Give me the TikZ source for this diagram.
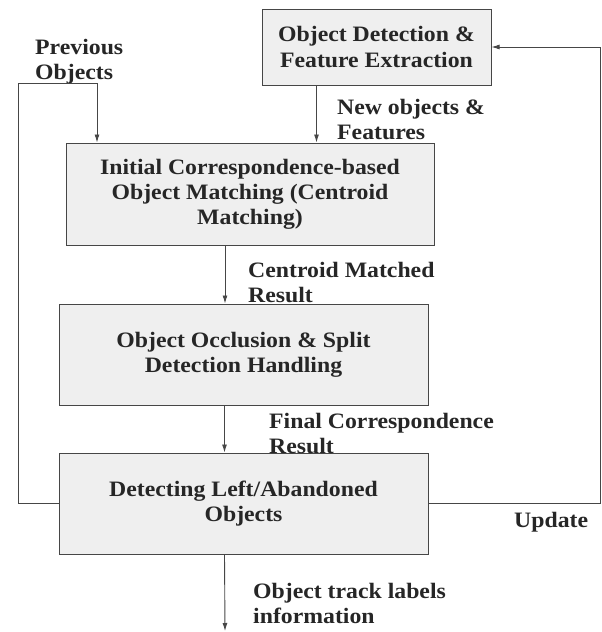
\documentclass[tikz,border=0pt]{standalone}
\usepackage{fontspec}
\setmainfont{Liberation Serif}[FakeStretch=1.08]
\definecolor{boxgray}{RGB}{239,239,239}
\definecolor{linegray}{RGB}{70,70,70}
\usetikzlibrary{positioning,arrows.meta}

\begin{document}
\begin{tikzpicture}[x=1pt,y=-1pt,
    every node/.style={font=\fontsize{22}{25}\selectfont\bfseries,text=black!85},
    procbox/.style={draw=linegray,fill=boxgray,line width=1pt,align=center,minimum width=369pt,minimum height=101pt,inner sep=0pt},
    lbl/.style={align=left,inner sep=0pt,anchor=west},
    arr/.style={draw=linegray,line width=0.9pt,-{Latex[length=8pt,width=5pt]}},
    node distance=47pt
    ]
    \useasboundingbox (0,0) rectangle (602,632);

    \node (det) [procbox,minimum width=229pt,minimum height=76pt] at (376.5,47) {Object Detection \&\\Feature Extraction};
    \node (match) [procbox,minimum width=368pt,minimum height=102pt] at (250,194) {Initial Correspondence-based\\Object Matching (Centroid\\Matching)};
    \node (occl) [procbox] at (243.5,354.5) {Object Occlusion \& Split\\Detection Handling};
    \node (aband) [procbox,below=of occl] {Detecting Left/Abandoned\\Objects};

    % the labels
    \node (prev) [lbl] at (35,62) {Previous\\Objects};
    \node (newf) [lbl] at (337,119) {New objects \&\\Features};
    \node (cent) [lbl] at (248,282) {Centroid Matched\\Result};
    \node (fin) [lbl] at (269,433) {Final Correspondence\\Result};
    \node (upd) [lbl] at (514,522) {Update};
    \node (trk) [lbl] at (253,603) {Object track labels\\information};

    \coordinate (ltop) at (18,83);
    \coordinate (rtop) at (600.5,47);
    \coordinate (outp) at (225,631);

    % the edges
    \draw[arr] (aband.west) -| (ltop) -| ([xshift=-153pt]match.north);
    \draw[arr] ([xshift=-60pt]det.south) -- ([xshift=-60pt]det.south |- match.north);
    \draw[arr] (aband.east) -| (rtop) -- (det.east);
    \draw[arr] ([xshift=-25pt]match.south) -- ([xshift=-25pt]match.south |- occl.north);
    \draw[arr] ([xshift=-19pt]occl.south) -- ([xshift=-19pt]occl.south |- aband.north);
    \draw[arr] ([xshift=-19pt]aband.south) -- (outp);
\end{tikzpicture}
\end{document}
